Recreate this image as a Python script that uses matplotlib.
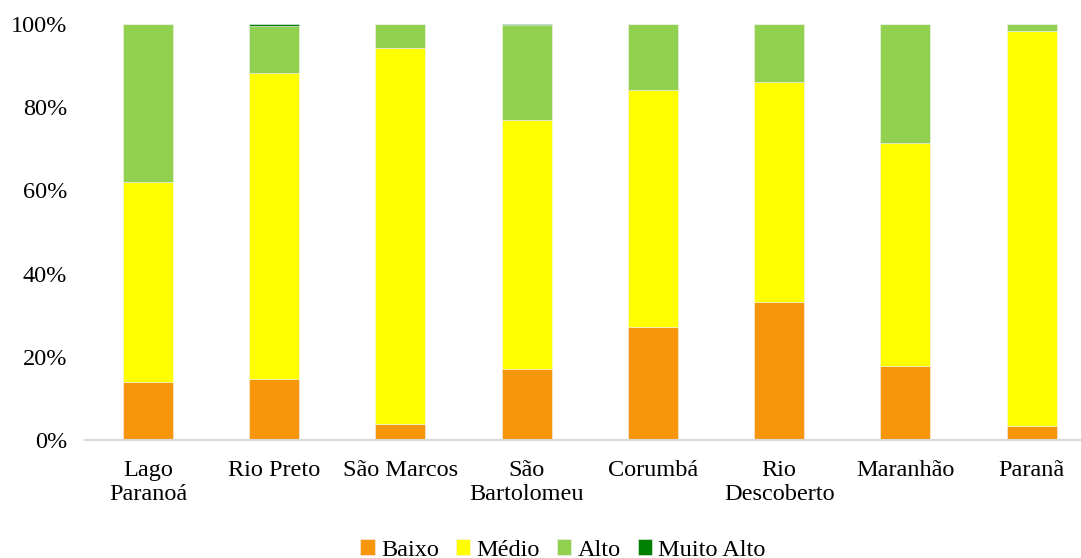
import matplotlib.pyplot as plt
import numpy as np

plt.rcParams['font.family'] = ['Liberation Serif', 'DejaVu Serif']

# share of area per class (%) in each basin
bacias = ['Lago\nParanoá', 'Rio Preto', 'São Marcos', 'São\nBartolomeu',
          'Corumbá', 'Rio\nDescoberto', 'Maranhão', 'Paranã']
baixo = [13.9, 14.6, 3.8, 17.0, 27.1, 33.1, 17.7, 3.4]
medio = [48.2, 73.6, 90.4, 60.0, 57.1, 53.0, 53.8, 94.9]
alto = [37.9, 11.3, 5.8, 22.7, 15.8, 13.9, 28.5, 1.7]
muito_alto = [0.0, 0.5, 0.0, 0.3, 0.0, 0.0, 0.0, 0.0]

series = [('Baixo', baixo, '#F7960B'),
          ('Médio', medio, '#FFFF00'),
          ('Alto', alto, '#92D050'),
          ('Muito Alto', muito_alto, '#008000')]

fig = plt.figure(figsize=(10.81, 5.58), dpi=100)
ax = fig.add_axes([0.0786, 0.2115, 0.934, 0.7455])

x = np.arange(len(bacias))
bottom = np.zeros(len(bacias))
for nome, vals, cor in series:
    vals = np.array(vals)
    ax.bar(x, vals, 0.396, bottom=bottom, color=cor, label=nome,
           edgecolor='#f0f0f0', linewidth=0.4)
    bottom += vals

ax.set_xlim(-0.5, len(bacias) - 0.5)
ax.set_ylim(0, 100)
ax.set_yticks(np.arange(0, 101, 20))
ax.set_yticklabels([f'{v}%' for v in range(0, 101, 20)])
ax.set_xticks(x)
ax.set_xticklabels(bacias, linespacing=1.2)
ax.tick_params(axis='both', length=0, labelsize=17.5)
ax.tick_params(axis='x', pad=14.5)
ax.tick_params(axis='y', pad=13)

for s in ['top', 'right', 'left']:
    ax.spines[s].set_visible(False)
ax.spines['bottom'].set_color('#D9D9D9')
ax.spines['bottom'].set_linewidth(1.5)

leg = ax.legend(loc='center', bbox_to_anchor=(563 / 1081, 8 / 558),
                bbox_transform=fig.transFigure, ncol=4, frameon=False,
                fontsize=17.5, handlelength=0.6, handleheight=0.6,
                handletextpad=0.25, columnspacing=0.7, borderpad=0)

fig.savefig('out.png', dpi=100)
